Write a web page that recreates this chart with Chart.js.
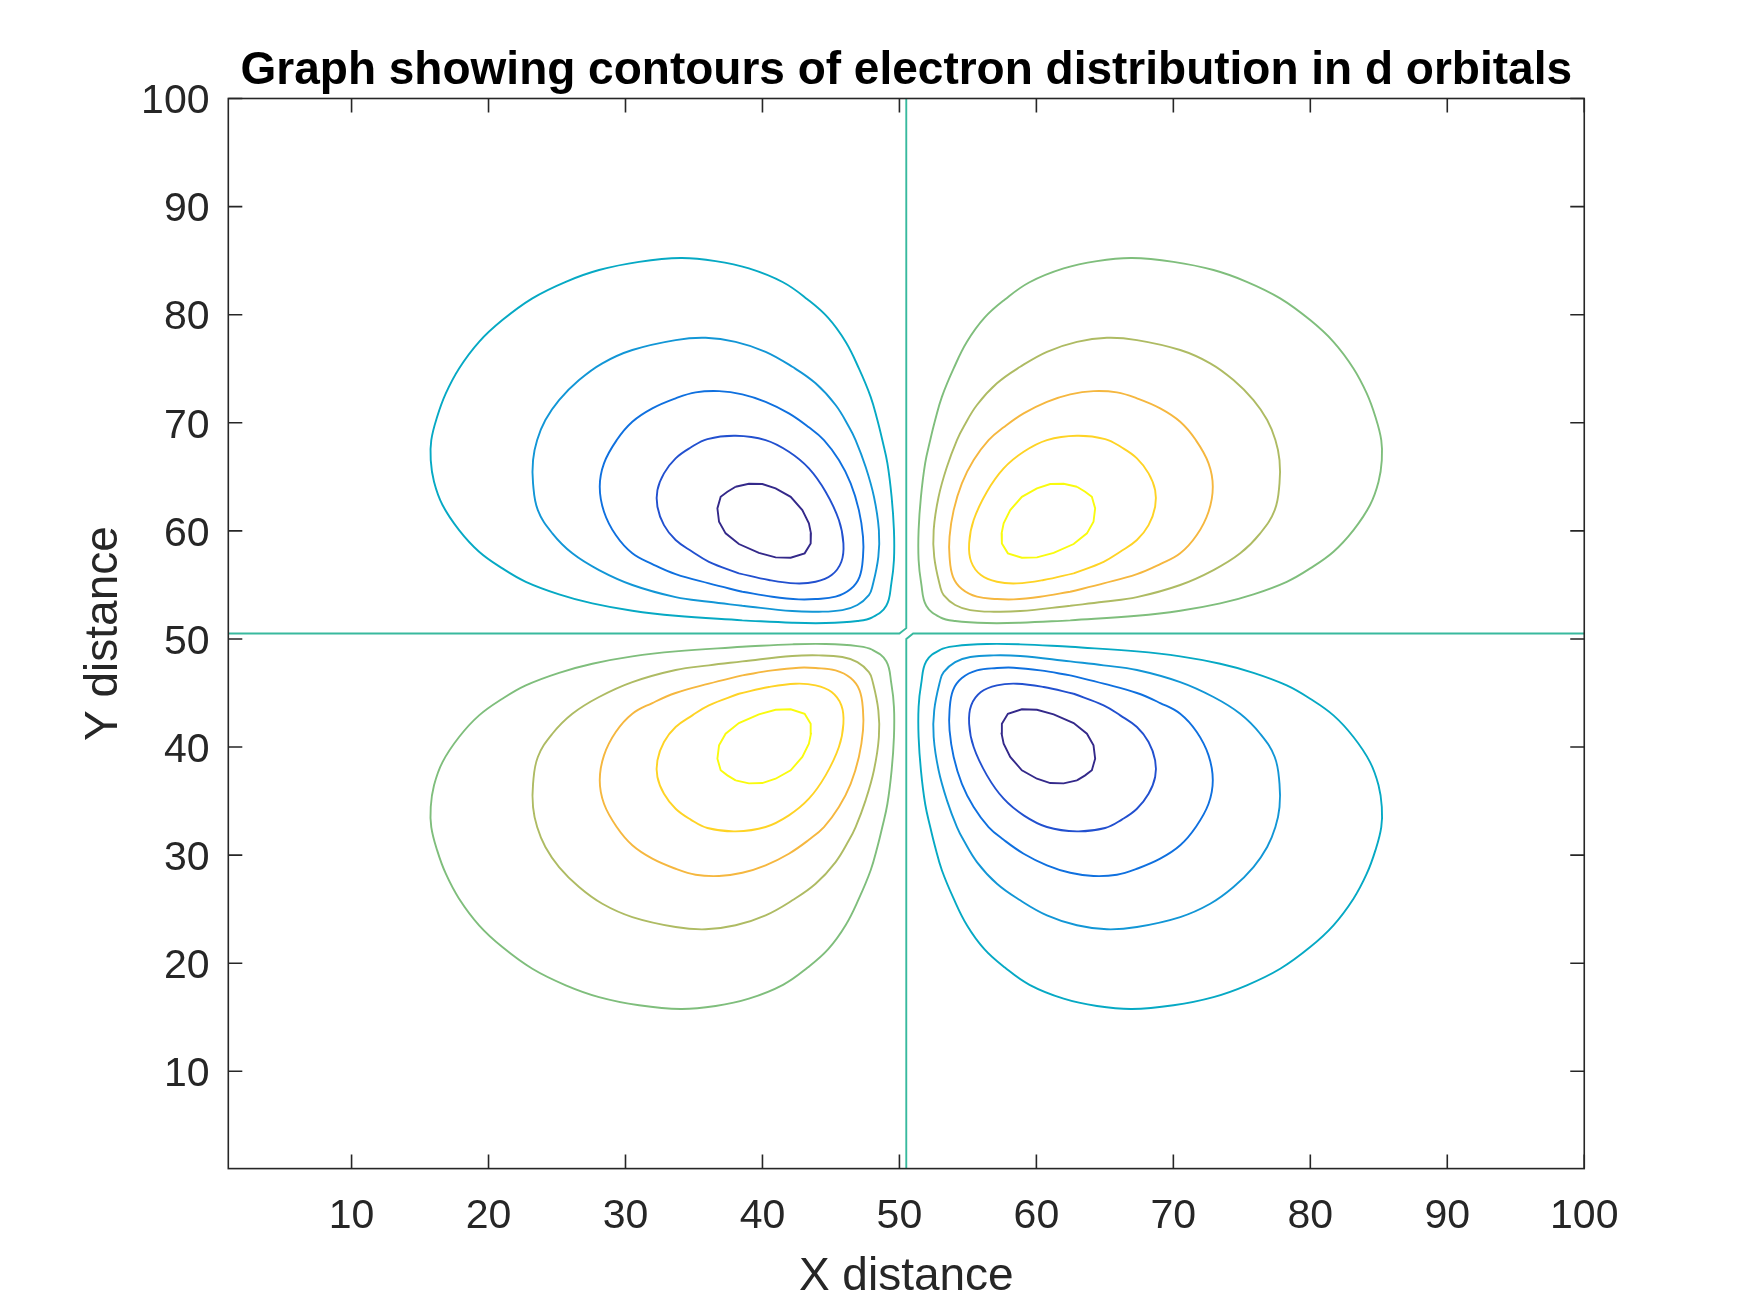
<!DOCTYPE html>
<html>
<head>
<meta charset="utf-8">
<title>d orbital contours</title>
<script src="https://cdn.jsdelivr.net/npm/chart.js@4"></script>
<style>
  html, body { margin: 0; padding: 0; background: #fff; }
  canvas { display: block; }
</style>
</head>
<body>
<canvas id="chart" width="1750" height="1313"></canvas>
<script>
// Tick labels
const xTicks = [10, 20, 30, 40, 50, 60, 70, 80, 90, 100];
const yTicks = [10, 20, 30, 40, 50, 60, 70, 80, 90, 100];

// Contours. Level 1 is the outermost loop of a lobe, level 5 the innermost.
// Left/right and top/bottom lobes use the matching x and y lists.
const xLeft1 = [38.53,33.66,30.5,27.58,25.15,22.72,21.01,19.31,17.85,16.64,16.02,15.78,15.82,16.25,16.88,17.85,19.31,21.01,23.2,25.64,28.07,30.99,34.03,36.58,39.01,41.5,43.3,44.8,46.07,47.04,47.9,48.39,48.75,49.12,49.43,49.6,49.6,49.41,49.04,48.02,46.93,44.61,42.18,38.53];
const yTop1 = [51.72,52.15,52.61,53.29,54.13,55.29,56.53,58.07,60.07,62.39,64.54,66.55,68.4,70.56,72.72,75.03,77.49,79.5,81.51,83.04,84.13,84.89,85.24,84.96,84.28,83.0,81.4,79.7,77.49,75.03,72.4,70.25,68.4,66.27,63.15,60.07,57.3,55.14,53.07,52.0,51.66,51.47,51.5,51.72];
const xRight1 = [62.47,67.34,70.5,73.42,75.85,78.28,79.99,81.69,83.15,84.36,84.98,85.22,85.18,84.75,84.12,83.15,81.69,79.99,77.8,75.36,72.93,70.01,66.97,64.42,61.99,59.5,57.7,56.2,54.93,53.96,53.1,52.61,52.25,51.88,51.57,51.4,51.4,51.59,51.96,52.98,54.07,56.39,58.82,62.47];
const yBot1 = [49.28,48.85,48.39,47.71,46.87,45.71,44.47,42.93,40.93,38.61,36.46,34.45,32.6,30.44,28.28,25.97,23.51,21.5,19.49,17.96,16.87,16.11,15.76,16.04,16.72,18.0,19.6,21.3,23.51,25.97,28.6,30.75,32.6,34.73,37.85,40.93,43.7,45.86,47.93,49.0,49.34,49.53,49.5,49.28];

const xLeft2 = [38.53,36.09,33.66,30.5,28.07,26.12,24.66,23.6,23.25,23.25,23.55,24.15,25.15,26.61,28.31,30.5,33.66,35.85,38.04,40.23,42.18,43.88,45.34,46.31,46.8,47.53,48.14,48.5,48.46,48.02,47.77,46.93,45.83,44.12,42.18,38.53];
const yTop2 = [53.07,53.44,53.87,54.99,56.37,57.92,59.77,61.92,64.4,66.55,68.4,70.25,72.1,73.95,75.5,76.73,77.65,77.86,77.49,76.57,75.18,73.65,71.64,69.63,68.4,65.93,63.15,60.07,57.6,54.83,54.06,53.14,52.67,52.52,52.58,53.07];
const xRight2 = [62.47,64.91,67.34,70.5,72.93,74.88,76.34,77.4,77.75,77.75,77.45,76.85,75.85,74.39,72.69,70.5,67.34,65.15,62.96,60.77,58.82,57.12,55.66,54.69,54.2,53.47,52.86,52.5,52.54,52.98,53.23,54.07,55.17,56.88,58.82,62.47];
const yBot2 = [47.93,47.56,47.13,46.01,44.63,43.08,41.23,39.08,36.6,34.45,32.6,30.75,28.9,27.05,25.5,24.27,23.35,23.14,23.51,24.43,25.82,27.35,29.36,31.37,32.6,35.07,37.85,40.93,43.4,46.17,46.94,47.86,48.33,48.48,48.42,47.93];

const xLeft3 = [38.53,36.09,33.66,31.96,30.5,29.29,28.43,28.12,28.43,29.36,30.5,31.96,33.66,35.12,36.83,38.53,40.23,41.93,43.39,44.49,45.58,46.44,47.04,47.34,47.34,47.09,46.44,45.34,43.88,42.66,40.72,38.53];
const yTop3 = [54.37,55.14,56.0,56.93,57.92,59.61,61.77,64.08,66.25,68.4,70.09,71.33,72.26,72.81,72.93,72.63,71.94,70.87,69.58,68.4,66.55,64.4,61.92,59.46,57.6,55.75,54.62,53.91,53.69,53.66,53.91,54.37];
const xRight3 = [62.47,64.91,67.34,69.04,70.5,71.71,72.57,72.88,72.57,71.64,70.5,69.04,67.34,65.88,64.17,62.47,60.77,59.07,57.61,56.51,55.42,54.56,53.96,53.66,53.66,53.91,54.56,55.66,57.12,58.34,60.28,62.47];
const yBot3 = [46.63,45.86,45.0,44.07,43.08,41.39,39.23,36.92,34.75,32.6,30.91,29.67,28.74,28.19,28.07,28.37,29.06,30.13,31.42,32.6,34.45,36.6,39.08,41.54,43.4,45.25,46.38,47.09,47.31,47.34,47.09,46.63];

const xLeft4 = [38.28,36.09,34.88,33.66,32.81,32.33,32.33,32.81,33.66,34.76,35.98,38.04,40.23,41.93,43.39,44.61,45.58,45.91,45.76,45.05,43.88,42.42,40.47,38.28];
const yTop4 = [56.07,57.14,58.07,59.15,60.53,62.23,63.77,65.32,66.71,67.71,68.49,68.8,68.4,67.32,65.78,63.62,61.0,58.84,57.14,55.91,55.29,55.14,55.45,56.07];
const xRight4 = [62.72,64.91,66.12,67.34,68.19,68.67,68.67,68.19,67.34,66.24,65.02,62.96,60.77,59.07,57.61,56.39,55.42,55.09,55.24,55.95,57.12,58.58,60.53,62.72];
const yBot4 = [44.93,43.86,42.93,41.85,40.47,38.77,37.23,35.68,34.29,33.29,32.51,32.2,32.6,33.68,35.22,37.38,40.0,42.16,43.86,45.09,45.71,45.86,45.55,44.93];

const xLeft5 = [38.04,39.01,39.99,40.96,42.06,42.91,43.39,43.54,43.52,43.08,42.06,40.96,39.74,38.28,37.31,36.83,36.71,36.95,37.44,38.04];
const yTop5 = [64.08,64.36,64.33,63.93,63.15,61.92,60.69,59.77,58.84,57.92,57.51,57.55,57.97,58.78,59.77,60.84,62.08,63.15,63.62,64.08];
const xRight5 = [62.96,61.99,61.01,60.04,58.94,58.09,57.61,57.46,57.48,57.92,58.94,60.04,61.26,62.72,63.69,64.17,64.29,64.05,63.56,62.96];
const yBot5 = [36.92,36.64,36.67,37.07,37.85,39.08,40.31,41.23,42.16,43.08,43.49,43.45,43.03,42.22,41.23,40.16,38.92,37.85,37.38,36.92];

// Zero contour, two pieces that nearly touch in the middle
const xZeroA = [1, 50, 50.5, 50.5];
const yZeroA = [50.5, 50.5, 51, 100];
const xZeroB = [100, 51, 50.5, 50.5];
const yZeroB = [50.5, 50.5, 50, 1];

const coolColors = ['#06A9C4', '#1296D6', '#0F70DF', '#2250CF', '#34298A'];
const warmColors = ['#7FBE7C', '#AEBB63', '#F5B73F', '#FED325', '#F9FB0E'];
const zeroColor = '#38B99E';

const INK = '#262626';

function toPoints(xs, ys) {
  return xs.map((x, i) => ({ x, y: ys[i] }));
}

function contour(xs, ys, color, tension) {
  return {
    data: toPoints(xs, ys),
    borderColor: color,
    borderWidth: 1.9,
    pointRadius: 0,
    showLine: true,
    fill: false,
    tension,
  };
}

const lefts = [xLeft1, xLeft2, xLeft3, xLeft4, xLeft5];
const rights = [xRight1, xRight2, xRight3, xRight4, xRight5];
const tops = [yTop1, yTop2, yTop3, yTop4, yTop5];
const bots = [yBot1, yBot2, yBot3, yBot4, yBot5];

const datasets = [
  contour(xZeroA, yZeroA, zeroColor, 0),
  contour(xZeroB, yZeroB, zeroColor, 0),
];
for (let i = 0; i < 5; i++) {
  const t = i === 4 ? 0 : 0.4;  // innermost loops are visibly polygonal
  datasets.push(contour(lefts[i], tops[i], coolColors[i], t));
  datasets.push(contour(rights[i], tops[i], warmColors[i], t));
  datasets.push(contour(lefts[i], bots[i], warmColors[i], t));
  datasets.push(contour(rights[i], bots[i], coolColors[i], t));
}

// Box round the axes and inward ticks on all four sides
const axesBox = {
  id: 'axesBox',
  afterDatasetsDraw(chart) {
    const { ctx, chartArea: a, scales } = chart;
    const len = 14;
    ctx.save();
    ctx.strokeStyle = INK;
    ctx.lineWidth = 1.6;
    ctx.strokeRect(a.left, a.top, a.right - a.left, a.bottom - a.top);
    ctx.beginPath();
    xTicks.forEach(v => {
      const px = scales.x.getPixelForValue(v);
      ctx.moveTo(px, a.bottom); ctx.lineTo(px, a.bottom - len);
      ctx.moveTo(px, a.top);    ctx.lineTo(px, a.top + len);
    });
    yTicks.forEach(v => {
      const py = scales.y.getPixelForValue(v);
      ctx.moveTo(a.left, py);  ctx.lineTo(a.left + len, py);
      ctx.moveTo(a.right, py); ctx.lineTo(a.right - len, py);
    });
    ctx.stroke();
    ctx.restore();
  }
};

const FONT = '"Liberation Sans", Arial, sans-serif';

new Chart(document.getElementById('chart'), {
  type: 'scatter',
  data: { datasets },
  plugins: [axesBox],
  options: {
    responsive: false,
    animation: false,
    devicePixelRatio: 1,
    layout: { padding: { left: 0, right: 165.75, top: 0, bottom: 0 } },
    plugins: {
      legend: { display: false },
      tooltip: { enabled: false },
      title: {
        display: true,
        text: 'Graph showing contours of electron distribution in d orbitals',
        fullSize: false,
        color: '#000',
        font: { family: FONT, size: 46, weight: 'bold', lineHeight: 1 },
        padding: { top: 48.5, bottom: 4 },
      },
    },
    scales: {
      x: {
        type: 'linear',
        min: 1,
        max: 100,
        afterBuildTicks: s => { s.ticks = xTicks.map(value => ({ value })); },
        afterFit: s => { s.height = 144.4; },
        grid: { display: false, drawTicks: false },
        border: { display: false },
        ticks: { color: INK, font: { family: FONT, size: 41 }, padding: 23, maxRotation: 0, autoSkip: false },
        title: {
          display: true,
          text: 'X distance',
          color: INK,
          font: { family: FONT, size: 46, lineHeight: 1 },
          padding: { top: 0, bottom: 13 },
        },
      },
      y: {
        type: 'linear',
        min: 1,
        max: 100,
        afterBuildTicks: s => { s.ticks = yTicks.map(value => ({ value })); },
        afterFit: s => { s.width = 228.3; },
        grid: { display: false, drawTicks: false },
        border: { display: false },
        ticks: { color: INK, font: { family: FONT, size: 41 }, padding: 18.8, labelOffset: 3.5, autoSkip: false },
        title: {
          display: true,
          text: 'Y distance',
          color: INK,
          font: { family: FONT, size: 46, lineHeight: 1 },
          padding: { top: 81, bottom: 0 },
        },
      },
    },
  },
});
</script>
</body>
</html>
